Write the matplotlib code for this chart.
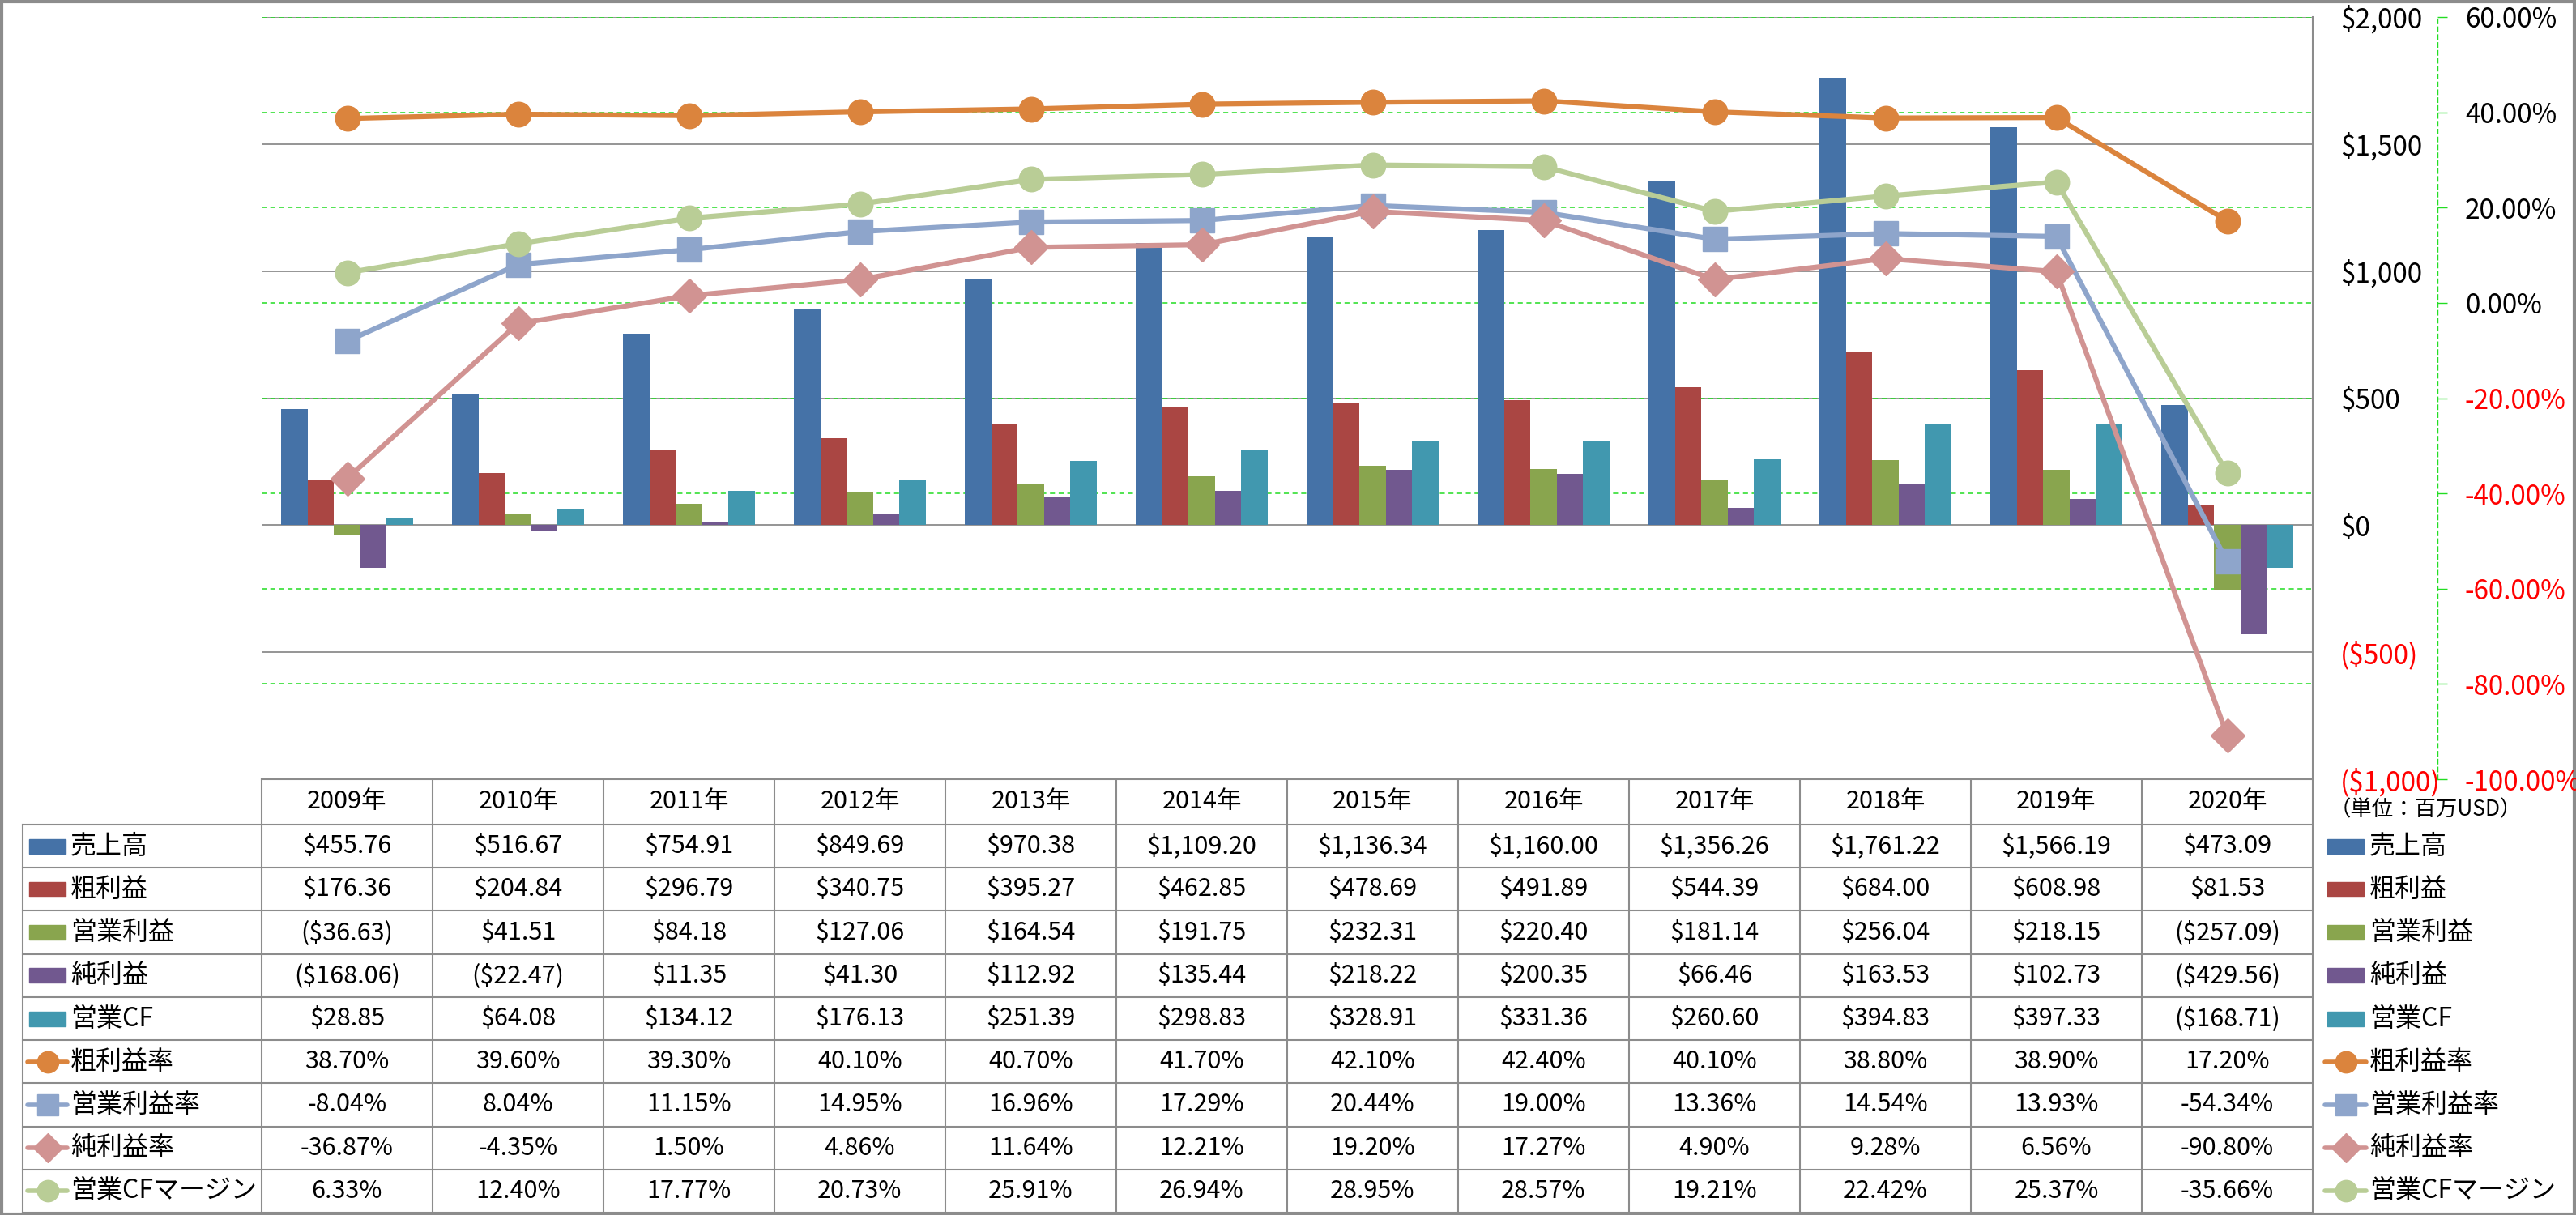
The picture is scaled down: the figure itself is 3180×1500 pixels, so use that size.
import matplotlib
matplotlib.use("Agg")
import matplotlib.pyplot as plt
import matplotlib.transforms as mtransforms
from matplotlib.lines import Line2D
from matplotlib.patches import Rectangle
import numpy as np

plt.rcParams['font.family'] = ['Noto Sans CJK JP', 'DejaVu Sans']

years = ["2009年", "2010年", "2011年", "2012年", "2013年", "2014年",
         "2015年", "2016年", "2017年", "2018年", "2019年", "2020年"]

# 百万USD
sales = [455.76, 516.67, 754.91, 849.69, 970.38, 1109.20, 1136.34, 1160.00, 1356.26, 1761.22, 1566.19, 473.09]
gross_profit = [176.36, 204.84, 296.79, 340.75, 395.27, 462.85, 478.69, 491.89, 544.39, 684.00, 608.98, 81.53]
op_income = [-36.63, 41.51, 84.18, 127.06, 164.54, 191.75, 232.31, 220.40, 181.14, 256.04, 218.15, -257.09]
net_income = [-168.06, -22.47, 11.35, 41.30, 112.92, 135.44, 218.22, 200.35, 66.46, 163.53, 102.73, -429.56]
op_cf = [28.85, 64.08, 134.12, 176.13, 251.39, 298.83, 328.91, 331.36, 260.60, 394.83, 397.33, -168.71]

# ratios (%)
gross_margin = [38.70, 39.60, 39.30, 40.10, 40.70, 41.70, 42.10, 42.40, 40.10, 38.80, 38.90, 17.20]
op_margin = [-8.04, 8.04, 11.15, 14.95, 16.96, 17.29, 20.44, 19.00, 13.36, 14.54, 13.93, -54.34]
net_margin = [-36.87, -4.35, 1.50, 4.86, 11.64, 12.21, 19.20, 17.27, 4.90, 9.28, 6.56, -90.80]
cf_margin = [6.33, 12.40, 17.77, 20.73, 25.91, 26.94, 28.95, 28.57, 19.21, 22.42, 25.37, -35.66]

bar_names = ["売上高", "粗利益", "営業利益", "純利益", "営業CF"]
bar_series = [sales, gross_profit, op_income, net_income, op_cf]
bar_colors = ["#4572A7", "#AA4643", "#89A54E", "#71588F", "#4198AF"]

line_names = ["粗利益率", "営業利益率", "純利益率", "営業CFマージン"]
line_series = [gross_margin, op_margin, net_margin, cf_margin]
line_colors = ["#DB843D", "#8EA5CB", "#D19392", "#B9CD96"]
line_markers = ["o", "s", "D", "o"]

usd_ticks = [-1000, -500, 0, 500, 1000, 1500, 2000]
pct_ticks = [-100, -80, -60, -40, -20, 0, 20, 40, 60]

W, H = 3180, 1500
DPI = 100
PT = 72.0 / DPI  # points per pixel


def fx(px):
    return px / W


def fy(py):
    return 1 - py / H


def fmt_usd(v):
    s = "${:,.2f}".format(abs(v))
    return "(" + s + ")" if v < 0 else s


def fmt_tick_usd(v):
    s = "${:,.0f}".format(abs(v))
    return "(" + s + ")" if v < 0 else s


fig = plt.figure(figsize=(W / DPI, H / DPI), dpi=DPI)
fig.patch.set_facecolor("white")

left, right, top, bottom = 323, 2855, 21, 962
ax = fig.add_axes([fx(left), fy(bottom), fx(right) - fx(left), (bottom - top) / H])
ax2 = ax.twinx()

n = len(years)
x = np.arange(n)
bw = 0.154

for i, (vals, col) in enumerate(zip(bar_series, bar_colors)):
    ax.bar(x + (i - 2) * bw, vals, width=bw, color=col, zorder=2)

ax.set_xlim(-0.5, n - 0.5)
ax.set_ylim(-1000, 2000)
ax.set_yticks(usd_ticks)
ax.set_xticks([])
ax.yaxis.tick_right()
ax.set_yticklabels([fmt_tick_usd(v) for v in usd_ticks])
ax.tick_params(axis="y", length=0, pad=34 * PT, labelsize=24)
for lab, v in zip(ax.get_yticklabels(), usd_ticks):
    lab.set_color("red" if v < 0 else "black")
for s in ["left", "top", "bottom"]:
    ax.spines[s].set_visible(False)
ax.spines["right"].set_color("#8C8C8C")
ax.spines["right"].set_linewidth(1.5)
for v in usd_ticks:
    ax.axhline(v, color="#8C8C8C", lw=1.3, zorder=0.5)

# percent axis (ticks on a dashed green spine, labels written next to it)
for s in ["left", "top", "bottom"]:
    ax2.spines[s].set_visible(False)
ax2.spines["right"].set_position(("outward", 154 * PT))
ax2.spines["right"].set_color("#22DD22")
ax2.spines["right"].set_linestyle((0, (4, 3)))
ax2.spines["right"].set_linewidth(1)
ax2.set_ylim(-100, 60)
ax2.set_yticks(pct_ticks)
ax2.tick_params(axis="y", length=12 * PT, width=1, color="#22DD22", labelright=False)

lab_trans = mtransforms.blended_transform_factory(fig.transFigure, ax2.transData)
for v in pct_ticks:
    fig.text(fx(3043), v, "{:.2f}%".format(v), transform=lab_trans, ha="left",
             va="center_baseline", fontsize=24, color="red" if v < 0 else "black")

trans = mtransforms.blended_transform_factory(ax.transAxes, ax2.transData)
for v in pct_ticks:
    ax.plot([0, 1], [v, v], transform=trans, color="#22DD22", lw=1.1,
            ls=(0, (4, 3)), zorder=0.6)

for vals, col, mk in zip(line_series, line_colors, line_markers):
    ms = 22 if mk != "D" else 21
    ax2.plot(x, vals, color=col, lw=4.5, marker=mk, ms=ms, mec=col, mfc=col,
             solid_capstyle="round", zorder=3)

# ---- data table ----
tbl_left, tbl_right = left, right
col_w = (tbl_right - tbl_left) / n
hdr_top, hdr_bot = 962, 1018
row_h = (1497 - hdr_bot) / 9
lab_left = 28
gray = "#8C8C8C"


def hline(py, x0, x1):
    fig.add_artist(Line2D([fx(x0), fx(x1)], [fy(py), fy(py)], color=gray, lw=1.5,
                          transform=fig.transFigure))


def vline(px, y0, y1):
    fig.add_artist(Line2D([fx(px), fx(px)], [fy(y0), fy(y1)], color=gray, lw=1.5,
                          transform=fig.transFigure))


hline(hdr_top, tbl_left, tbl_right)
for r in range(10):
    hline(hdr_bot + r * row_h, lab_left, tbl_right)
for c in range(n + 1):
    vline(tbl_left + c * col_w, hdr_top, 1497)
vline(lab_left, hdr_bot, 1497)

for c, yr in enumerate(years):
    fig.text(fx(tbl_left + (c + 0.5) * col_w), fy((hdr_top + hdr_bot) / 2), yr,
             ha="center", va="center", fontsize=22)

rows = []
for name, vals, col in zip(bar_names, bar_series, bar_colors):
    rows.append((name, [fmt_usd(v) for v in vals], ("bar", col, None)))
for name, vals, col, mk in zip(line_names, line_series, line_colors, line_markers):
    rows.append((name, ["{:.2f}%".format(v) for v in vals], ("line", col, mk)))


def legend_symbol(px0, px1, pyc, kind, col, mk):
    if kind == "bar":
        fig.add_artist(Rectangle((fx(px0), fy(pyc + 9)), fx(px1) - fx(px0), 18 / H,
                                 color=col, transform=fig.transFigure))
    else:
        fig.add_artist(Line2D([fx(px0), fx(px1)], [fy(pyc), fy(pyc)], color=col, lw=4,
                              solid_capstyle="round", transform=fig.transFigure))
        ms = 19 if mk != "D" else 18
        fig.add_artist(Line2D([fx((px0 + px1) / 2)], [fy(pyc)], color=col, marker=mk,
                              ms=ms, mec=col, mfc=col, transform=fig.transFigure))


for r, (name, texts, (kind, col, mk)) in enumerate(rows):
    yc = hdr_bot + (r + 0.5) * row_h
    if kind == "bar":
        legend_symbol(36, 81, yc, kind, col, mk)
        legend_symbol(2873, 2918, yc, kind, col, mk)
    else:
        legend_symbol(34, 83, yc, kind, col, mk)
        legend_symbol(2870, 2921, yc, kind, col, mk)
    fig.text(fx(87), fy(yc), name, ha="left", va="center", fontsize=23)
    fig.text(fx(2925), fy(yc), name, ha="left", va="center", fontsize=23)
    for c, t in enumerate(texts):
        fig.text(fx(tbl_left + (c + 0.5) * col_w), fy(yc), t,
                 ha="center", va="center", fontsize=22)

fig.text(fx(2876), fy(1000), "（単位：百万USD）", ha="left", va="center", fontsize=19)

# outer frame
fig.add_artist(Rectangle((0.0005, 0.001), 0.999, 0.998, fill=False, edgecolor=gray,
                         lw=3, transform=fig.transFigure))

fig.savefig("out.png", dpi=DPI)
